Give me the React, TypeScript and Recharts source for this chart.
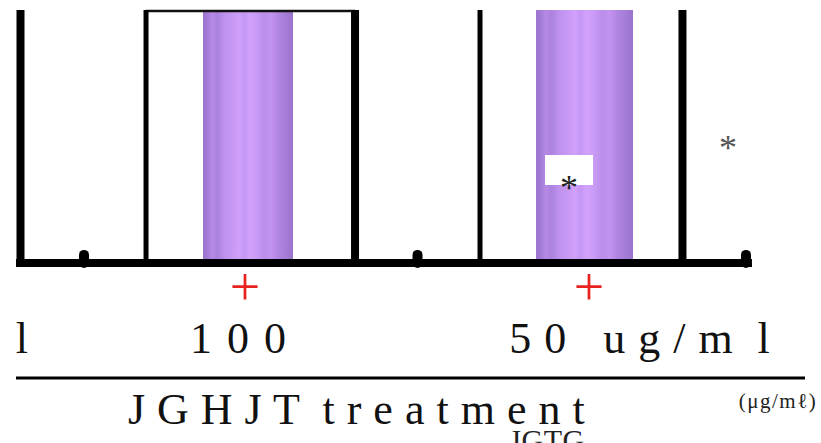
import React from 'react';
import { ComposedChart, XAxis, YAxis, ReferenceLine, ReferenceArea, Scatter } from 'recharts';

// ---- values (x: 0..100 treatment axis, y: 0..100 response) ----
const heavyPosts = [0.57, 42.97, 84.47];
const thinPosts = [16.48, 58.81];
const postTop = 100;
const capFrom = 16.48;
const capTo = 42.97;
const capValue = 99.6;
const baselineEnd = 93.28;
const stubPositions = [8.62, 50.89, 92.52];
const stubValue = 3.2;
const purpleStarts = [23.7, 65.91];
const purpleEnds = [35.11, 78.2];
const purpleValue = 100;
const gapBoxX = [67.05, 73.13];
const gapBoxY = [30.8, 42.7];
const asteriskX = [70.09, 90.24];
const asteriskY = [31.2, 47.0];
const plusPositions = [29.02, 72.62];
const plusLabels = ['+', '+'];
const dosePositions = [0.82, 28.26, 79.09];
const doseLabels = ['l', '1 0 0', '5 0   u g / m  l'];
const titlePositions = [43.16, 96.58, 67.3];
const titleLabels = ['J G H J T  t r e a t m e n t', '(\u03bcg/m\u2113)', 'JGTG'];

const FONT = '"Liberation Serif", "DejaVu Serif", serif';
const titleStyle = [
  { fontSize: 44, dy: 46, ls: 0.5, fill: '#111' },
  { fontSize: 21, dy: 30, ls: 1.5, fill: '#222' },
  { fontSize: 30, dy: 72, ls: 0.5, fill: '#222' },
];

const findIndex = (positions: number[], v: any) => {
  const n = Number(v);
  let best = 0;
  let bd = Infinity;
  positions.forEach((p, i) => {
    const d = Math.abs(p - n);
    if (d < bd) {
      bd = d;
      best = i;
    }
  });
  return best;
};

const PlusTick = (props: any) => {
  const { x, y, payload } = props;
  const i = findIndex(plusPositions, payload?.value);
  return (
    <text x={x} y={y + 42} textAnchor="middle" fill="#e8231f" fontSize={54} fontFamily={FONT}>
      {plusLabels[i]}
    </text>
  );
};

const DoseTick = (props: any) => {
  const { x, y, payload } = props;
  const i = findIndex(dosePositions, payload?.value);
  return (
    <text
      x={x}
      y={y + 50}
      textAnchor="middle"
      fill="#111"
      fontSize={44}
      fontFamily={FONT}
      style={{ whiteSpace: 'pre', letterSpacing: i === 1 ? 2 : 1 }}
    >
      {doseLabels[i]}
    </text>
  );
};

const TitleTick = (props: any) => {
  const { x, y, payload } = props;
  const i = findIndex(titlePositions, payload?.value);
  const s = titleStyle[i];
  return (
    <text
      x={x}
      y={y + s.dy}
      textAnchor="middle"
      fill={s.fill}
      fontSize={s.fontSize}
      fontFamily={FONT}
      style={{ whiteSpace: 'pre', letterSpacing: s.ls }}
    >
      {titleLabels[i]}
    </text>
  );
};

const makeAsterisk = (fill: string) => (props: any) => {
  const { cx, cy } = props;
  return (
    <text x={cx} y={cy} dy={15.5} textAnchor="middle" fontSize={36} fontFamily={FONT} fill={fill}>
      *
    </text>
  );
};

const EmptyShape = () => <g />;

export default function App() {
  const asteriskColors = ['#222', '#555'];
  const doseAnchors = dosePositions.map((x) => ({ x, y: 0 }));
  const titleAnchors = titlePositions.map((x) => ({ x, y: 0 }));
  return (
    <div style={{ position: 'absolute', left: 0, top: 0, width: 821, height: 443, background: '#fff' }}>
      <ComposedChart width={821} height={443} margin={{ top: 10, right: 16, bottom: 0, left: 16 }}>
        <defs>
          <linearGradient id="purpleStripes" x1="0" y1="0" x2="1" y2="0">
            <stop offset="0" stopColor="#9c74d0" />
            <stop offset="0.06" stopColor="#a67ed9" />
            <stop offset="0.1" stopColor="#b68ae6" />
            <stop offset="0.16" stopColor="#ab82df" />
            <stop offset="0.24" stopColor="#bf92ee" />
            <stop offset="0.32" stopColor="#c698f4" />
            <stop offset="0.4" stopColor="#cfa1fb" />
            <stop offset="0.46" stopColor="#c597f4" />
            <stop offset="0.52" stopColor="#d0a2fc" />
            <stop offset="0.6" stopColor="#c99bf6" />
            <stop offset="0.68" stopColor="#bb8eeb" />
            <stop offset="0.76" stopColor="#c293ef" />
            <stop offset="0.84" stopColor="#b085e1" />
            <stop offset="0.92" stopColor="#a57dd7" />
            <stop offset="1" stopColor="#9a73cc" />
          </linearGradient>
        </defs>
        <XAxis
          xAxisId={0}
          type="number"
          dataKey="x"
          domain={[0, 100]}
          ticks={plusPositions}
          interval={0}
          height={40}
          axisLine={false}
          tickLine={false}
          tickSize={0}
          tickMargin={0}
          tick={PlusTick}
        />
        <XAxis
          xAxisId="dose"
          type="number"
          dataKey="x"
          domain={[0, 100]}
          ticks={dosePositions}
          interval={0}
          height={75}
          axisLine={false}
          tickLine={false}
          tickSize={0}
          tickMargin={0}
          tick={DoseTick}
        />
        <XAxis
          xAxisId="title"
          type="number"
          dataKey="x"
          domain={[0, 100]}
          ticks={titlePositions}
          interval={0}
          height={65}
          axisLine={{ stroke: '#000', strokeWidth: 3 }}
          tickLine={false}
          tickSize={0}
          tickMargin={0}
          tick={TitleTick}
        />
        <YAxis type="number" dataKey="y" domain={[0, 100]} hide />

        {purpleStarts.map((s, i) => (
          <ReferenceArea
            key={'p' + i}
            x1={s}
            x2={purpleEnds[i]}
            y1={0}
            y2={purpleValue}
            fill="url(#purpleStripes)"
            fillOpacity={1}
            stroke="none"
          />
        ))}
        <ReferenceArea
          x1={gapBoxX[0]}
          x2={gapBoxX[1]}
          y1={gapBoxY[0]}
          y2={gapBoxY[1]}
          fill="#fff"
          fillOpacity={1}
          stroke="none"
        />

        <ReferenceLine
          segment={[{ x: capFrom, y: capValue }, { x: capTo, y: capValue }]}
          stroke="#111"
          strokeWidth={2.5}
        />
        {heavyPosts.map((p, i) => (
          <ReferenceLine
            key={'h' + i}
            segment={[{ x: p, y: 0 }, { x: p, y: postTop }]}
            stroke="#000"
            strokeWidth={8}
          />
        ))}
        {thinPosts.map((p, i) => (
          <ReferenceLine
            key={'t' + i}
            segment={[{ x: p, y: 0 }, { x: p, y: postTop }]}
            stroke="#000"
            strokeWidth={5}
          />
        ))}
        <ReferenceLine
          segment={[{ x: 0, y: 0 }, { x: baselineEnd, y: 0 }]}
          stroke="#000"
          strokeWidth={8}
        />
        {stubPositions.map((p, i) => (
          <ReferenceLine
            key={'s' + i}
            segment={[{ x: p, y: 0 }, { x: p, y: stubValue }]}
            stroke="#000"
            strokeWidth={10}
            strokeLinecap="round"
          />
        ))}

        {asteriskX.map((ax, i) => (
          <Scatter
            key={'a' + i}
            data={[{ x: ax, y: asteriskY[i] }]}
            dataKey="y"
            shape={makeAsterisk(asteriskColors[i])}
            isAnimationActive={false}
          />
        ))}
        <Scatter xAxisId="dose" data={doseAnchors} dataKey="y" shape={EmptyShape} isAnimationActive={false} />
        <Scatter xAxisId="title" data={titleAnchors} dataKey="y" shape={EmptyShape} isAnimationActive={false} />
      </ComposedChart>
    </div>
  );
}
